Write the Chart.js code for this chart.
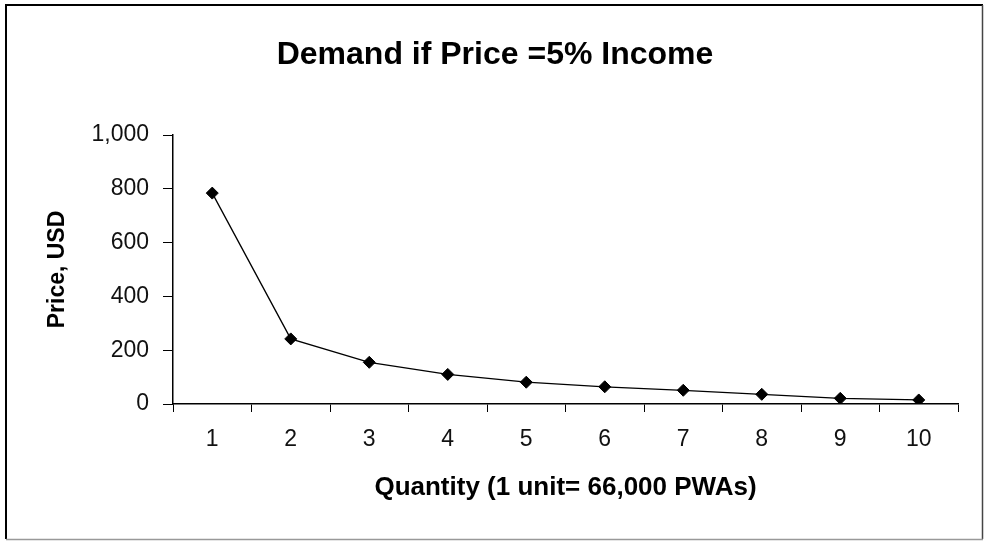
<!DOCTYPE html>
<html>
<head>
<meta charset="utf-8">
<script src="https://cdn.jsdelivr.net/npm/chart.js@4/dist/chart.umd.min.js"></script>
<style>
  html, body { margin: 0; padding: 0; background: #fff; }
  #wrap { width: 986px; height: 541px; position: relative; }
</style>
</head>
<body>
<div id="wrap"><canvas id="c" width="986" height="541"></canvas></div>
<script>
const categories = ['1', '2', '3', '4', '5', '6', '7', '8', '9', '10'];
const priceValues = [784, 242, 155, 110, 81, 64, 51, 36, 21, 15];
const yTickMin = 0;
const yTickMax = 1000;
const yTickStep = 200;
const chartTitle = 'Demand if Price =5% Income';
const xTitle = 'Quantity (1 unit= 66,000 PWAs)';
const yTitle = 'Price, USD';

const FONT = "'Liberation Sans', Arial, sans-serif";

const frame = {
  id: 'frame',
  beforeDraw(chart) {
    const ctx = chart.ctx;
    ctx.save();
    ctx.fillStyle = '#fff';
    ctx.fillRect(0, 0, chart.width, chart.height);
    ctx.restore();
  },
  afterDraw(chart) {
    const ctx = chart.ctx;
    ctx.save();
    ctx.lineWidth = 2;
    ctx.strokeStyle = '#000';
    ctx.beginPath();
    ctx.moveTo(6, 539); ctx.lineTo(6, 5); ctx.lineTo(983, 5);
    ctx.stroke();
    ctx.lineWidth = 1.5;
    ctx.strokeStyle = '#444';
    ctx.beginPath();
    ctx.moveTo(982.5, 5); ctx.lineTo(982.5, 539);
    ctx.stroke();
    ctx.strokeStyle = '#999';
    ctx.beginPath();
    ctx.moveTo(6, 539.5); ctx.lineTo(983, 539.5);
    ctx.stroke();
    ctx.restore();
  }
};

new Chart(document.getElementById('c'), {
  type: 'line',
  data: {
    labels: categories,
    datasets: [{
      data: priceValues,
      borderColor: '#000',
      borderWidth: 1.3,
      backgroundColor: '#000',
      pointStyle: 'rectRot',
      pointRadius: 6,
      pointHoverRadius: 6,
      pointBackgroundColor: '#000',
      pointBorderColor: '#000',
      pointBorderWidth: 1,
      tension: 0,
      fill: false
    }]
  },
  options: {
    responsive: false,
    animation: false,
    devicePixelRatio: 1,
    layout: { padding: { top: 0, left: 32, right: 28, bottom: 0 } },
    plugins: {
      legend: { display: false },
      tooltip: { enabled: false },
      title: {
        display: true,
        text: chartTitle,
        color: '#000',
        font: { family: FONT, size: 32, weight: 'bold', lineHeight: 1.2 },
        padding: { top: 36, bottom: 60.6 }
      }
    },
    scales: {
      x: {
        type: 'category',
        offset: true,
        grid: {
          display: true,
          offset: true,
          drawOnChartArea: false,
          drawTicks: true,
          tickLength: 8,
          color: '#000',
          lineWidth: 1
        },
        border: { display: true, color: '#000', width: 1.5 },
        ticks: {
          color: '#111',
          padding: 14,
          maxRotation: 0,
          autoSkip: false,
          font: { family: FONT, size: 23 }
        },
        title: {
          display: true,
          text: xTitle,
          color: '#000',
          font: { family: FONT, size: 26, weight: 'bold', lineHeight: 1.2 },
          padding: { top: 0, bottom: 38 }
        },
        afterFit(scale) { scale.height = 137; }
      },
      y: {
        min: yTickMin,
        max: yTickMax,
        grid: {
          display: true,
          drawOnChartArea: false,
          drawTicks: true,
          tickLength: 10,
          color: '#000',
          lineWidth: 1
        },
        border: { display: true, color: '#000', width: 1.5 },
        ticks: {
          stepSize: yTickStep,
          color: '#111',
          padding: 14,
          font: { family: FONT, size: 23 },
          callback: (v) => v.toLocaleString('en-US')
        },
        title: {
          display: true,
          text: yTitle,
          color: '#000',
          font: { family: FONT, size: 23, weight: 'bold', lineHeight: 1.2 },
          padding: { top: 12, bottom: 0 }
        },
        afterFit(scale) { scale.width = 141; }
      }
    }
  },
  plugins: [frame]
});
</script>
</body>
</html>
